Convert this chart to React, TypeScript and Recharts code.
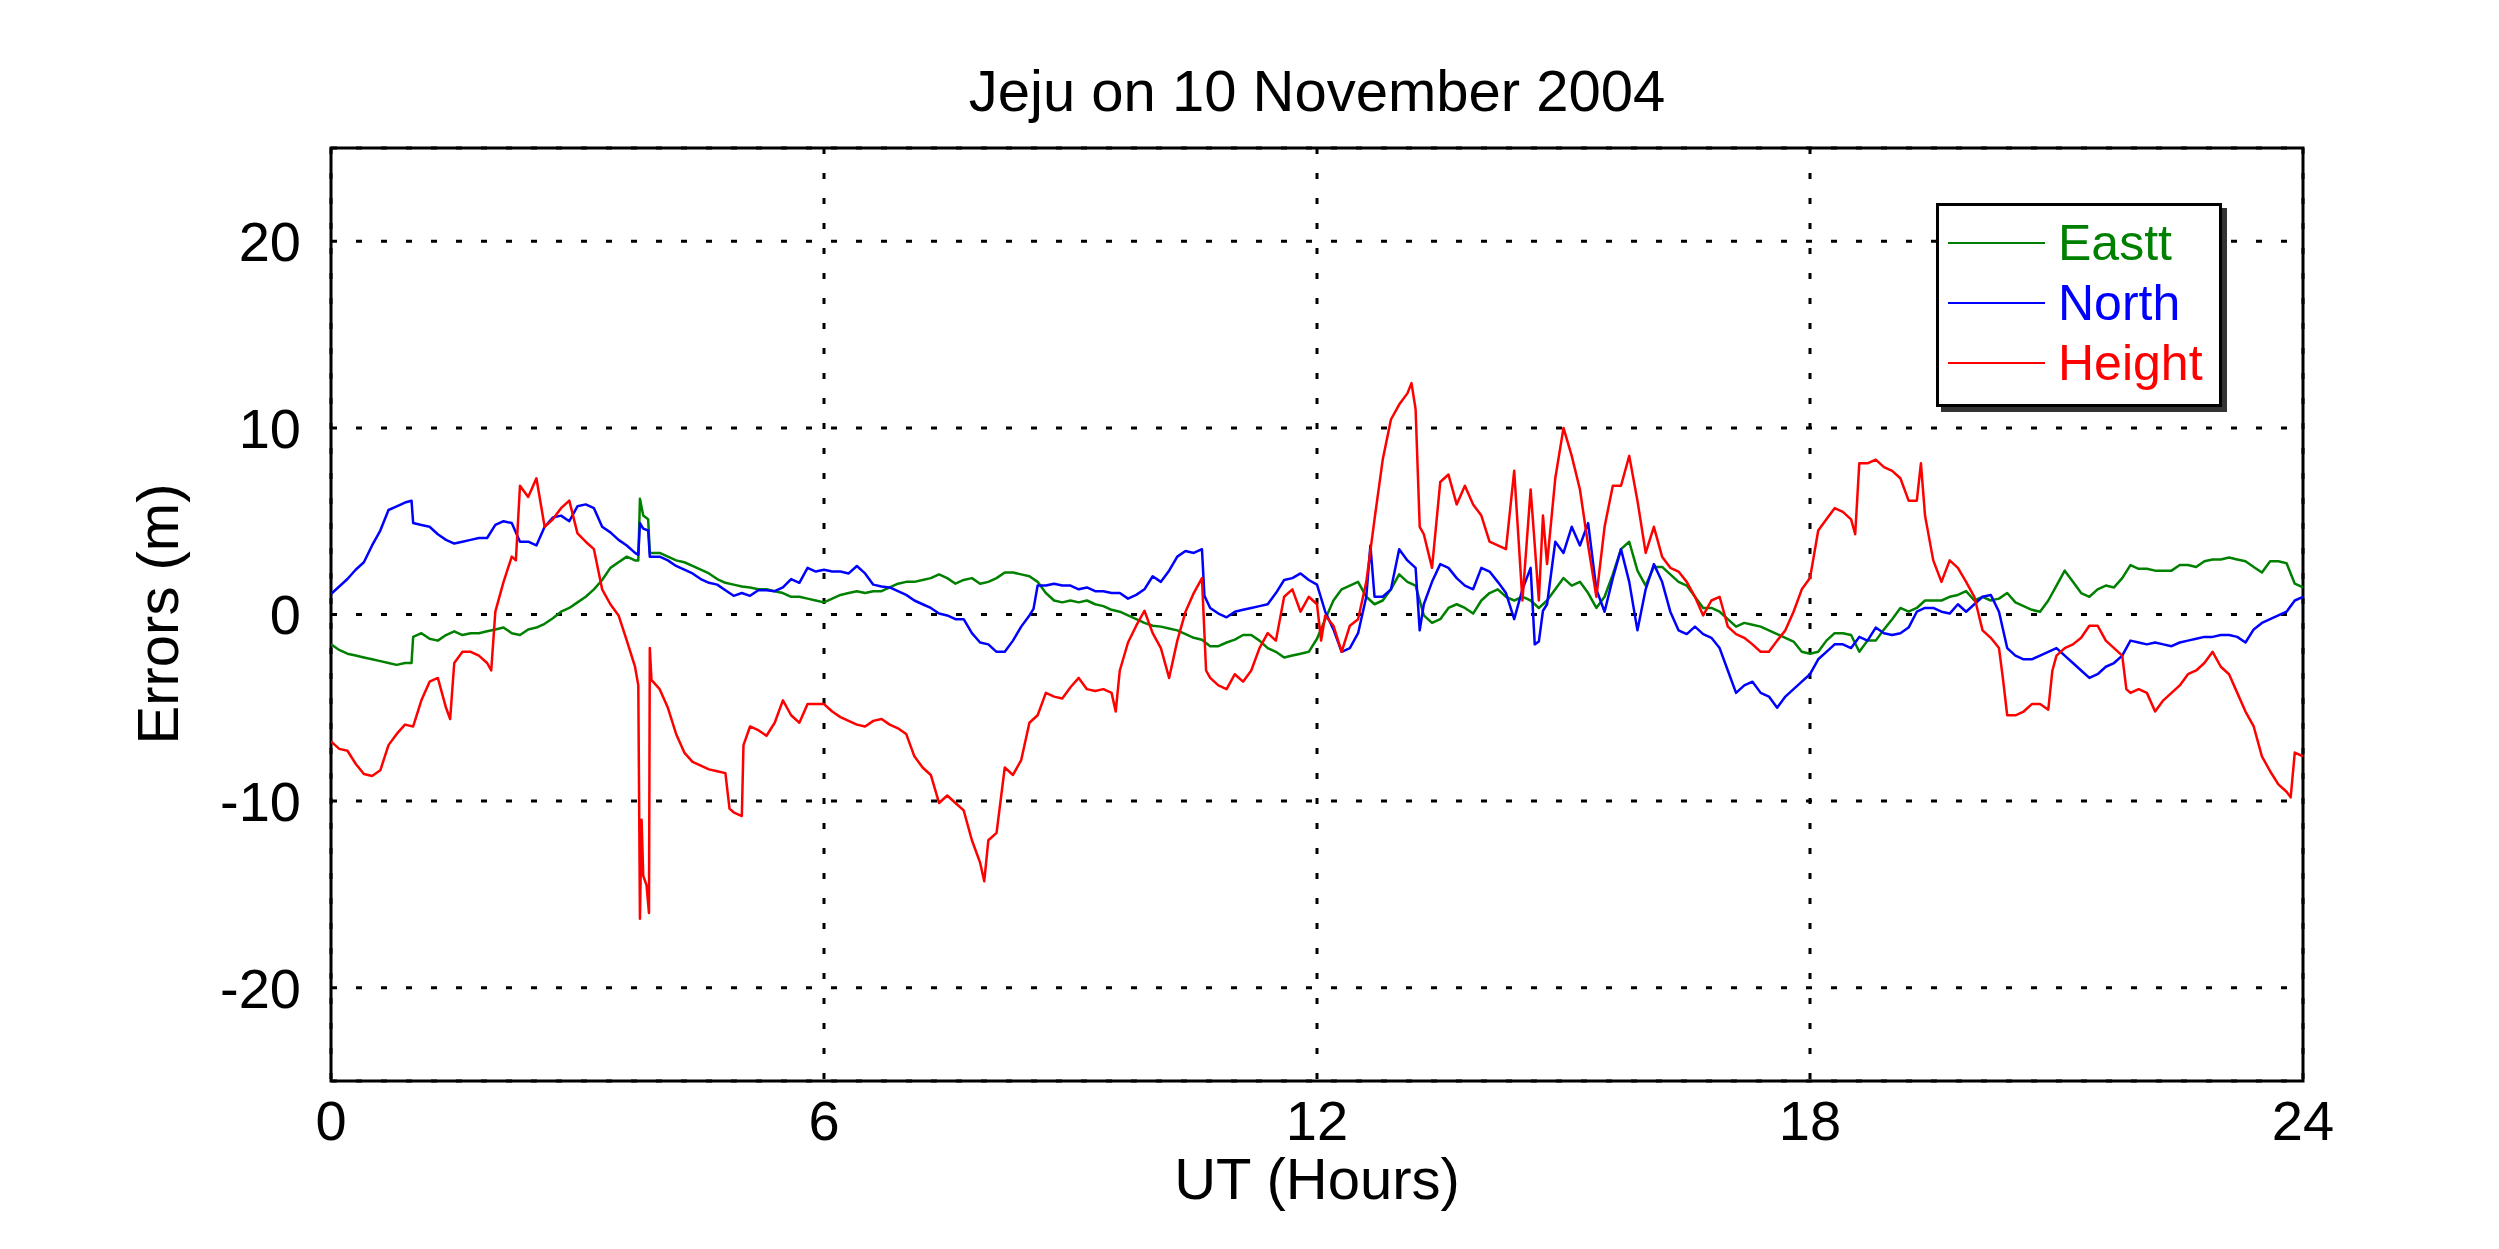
import { LineChart, Line, XAxis, YAxis, CartesianGrid, Legend, ReferenceArea } from 'recharts';

const FONT = '"Liberation Sans", Arial, Helvetica, sans-serif';

const X_TICKS = [0, 6, 12, 18, 24];
const Y_TICKS = [-20, -10, 0, 10, 20];

// [UT hour, error in m]
const EAST: [number, number][] = [
  [0, -1.6], [0.1, -1.9], [0.2, -2.1], [0.3, -2.2], [0.4, -2.3], [0.5, -2.4], [0.6, -2.5], [0.7, -2.6], [0.8, -2.7], [0.9, -2.6],
  [0.98, -2.6], [1.0, -1.2], [1.1, -1.0], [1.2, -1.3], [1.3, -1.4], [1.4, -1.1], [1.5, -0.9], [1.6, -1.1], [1.7, -1.0], [1.8, -1.0],
  [1.9, -0.9], [2.0, -0.8], [2.1, -0.7], [2.2, -1.0], [2.3, -1.1], [2.4, -0.8], [2.5, -0.7], [2.6, -0.5], [2.7, -0.2], [2.8, 0.15],
  [2.9, 0.35], [3.0, 0.65], [3.1, 0.95], [3.2, 1.35], [3.3, 1.85], [3.4, 2.5], [3.5, 2.8], [3.6, 3.1], [3.7, 2.9], [3.74, 2.9],
  [3.76, 6.2], [3.8, 5.3], [3.86, 5.1], [3.88, 3.3], [4.0, 3.3], [4.1, 3.1], [4.2, 2.9], [4.3, 2.8], [4.4, 2.6], [4.5, 2.4],
  [4.6, 2.2], [4.7, 1.9], [4.8, 1.7], [4.9, 1.6], [5.0, 1.5], [5.1, 1.45], [5.2, 1.35], [5.3, 1.35], [5.4, 1.25], [5.5, 1.15],
  [5.6, 0.95], [5.7, 0.95], [5.8, 0.85], [5.9, 0.75],
  [6.0, 0.65], [6.1, 0.85], [6.2, 1.05], [6.3, 1.15], [6.4, 1.25], [6.5, 1.15], [6.6, 1.25], [6.7, 1.25], [6.8, 1.45], [6.9, 1.65],
  [7.0, 1.75], [7.1, 1.75], [7.2, 1.85], [7.3, 1.95], [7.4, 2.15], [7.5, 1.95], [7.6, 1.65], [7.7, 1.85], [7.8, 1.95], [7.9, 1.65],
  [8.0, 1.75], [8.1, 1.95], [8.2, 2.25], [8.3, 2.25], [8.4, 2.15], [8.5, 2.05], [8.6, 1.75], [8.7, 1.15], [8.8, 0.75], [8.9, 0.65],
  [9.0, 0.75], [9.1, 0.65], [9.2, 0.75], [9.3, 0.55], [9.4, 0.45], [9.5, 0.25], [9.6, 0.15], [9.7, -0.05], [9.8, -0.25], [9.9, -0.45],
  [10.0, -0.6], [10.1, -0.65], [10.2, -0.75], [10.3, -0.85], [10.4, -1.05], [10.5, -1.25], [10.6, -1.35], [10.7, -1.7], [10.8, -1.7], [10.9, -1.5],
  [11.0, -1.35], [11.1, -1.1], [11.2, -1.1], [11.3, -1.4], [11.4, -1.8], [11.5, -2.0], [11.6, -2.3], [11.7, -2.2], [11.8, -2.1], [11.9, -2.0],
  [12.0, -1.3], [12.1, -0.25], [12.2, 0.75], [12.3, 1.35], [12.4, 1.55], [12.5, 1.75], [12.6, 0.95], [12.7, 0.55], [12.8, 0.75], [12.9, 1.35],
  [13.0, 2.15], [13.1, 1.75], [13.2, 1.55], [13.3, -0.05], [13.4, -0.45], [13.5, -0.25], [13.6, 0.35], [13.7, 0.55], [13.8, 0.35], [13.9, 0.05],
  [14.0, 0.75], [14.1, 1.15], [14.2, 1.35], [14.3, 0.95], [14.4, 0.75], [14.5, 0.95], [14.6, 0.75], [14.7, 0.35], [14.8, 0.75], [14.9, 1.35],
  [15.0, 1.95], [15.1, 1.55], [15.2, 1.75], [15.3, 1.15], [15.4, 0.35], [15.5, 0.95], [15.6, 2.15], [15.7, 3.5], [15.8, 3.9], [15.9, 2.35],
  [16.0, 1.55], [16.1, 2.55], [16.2, 2.55], [16.3, 2.15], [16.4, 1.75], [16.5, 1.55], [16.6, 0.95], [16.7, 0.35], [16.8, 0.35], [16.9, 0.15],
  [17.0, -0.25], [17.1, -0.65], [17.2, -0.45], [17.3, -0.55], [17.4, -0.65], [17.5, -0.85], [17.6, -1.05], [17.7, -1.25], [17.8, -1.45], [17.9, -2.0],
  [18.0, -2.1], [18.1, -2.0], [18.2, -1.4], [18.3, -1.0], [18.4, -1.0], [18.5, -1.1], [18.6, -2.0], [18.7, -1.4], [18.8, -1.4], [18.9, -0.8],
  [19.0, -0.25], [19.1, 0.35], [19.2, 0.15], [19.3, 0.35], [19.4, 0.75], [19.5, 0.75], [19.6, 0.75], [19.7, 0.95], [19.8, 1.05], [19.9, 1.25],
  [20.0, 0.75], [20.1, 0.95], [20.2, 0.75], [20.3, 0.85], [20.4, 1.15], [20.5, 0.65], [20.6, 0.45], [20.7, 0.25], [20.8, 0.15], [20.9, 0.75],
  [21.0, 1.55], [21.1, 2.35], [21.2, 1.75], [21.3, 1.15], [21.4, 0.95], [21.5, 1.35], [21.6, 1.55], [21.7, 1.45], [21.8, 1.95], [21.9, 2.65],
  [22.0, 2.45], [22.1, 2.45], [22.2, 2.35], [22.3, 2.35], [22.4, 2.35], [22.5, 2.65], [22.6, 2.65], [22.7, 2.55], [22.8, 2.85], [22.9, 2.95],
  [23.0, 2.95], [23.1, 3.05], [23.2, 2.95], [23.3, 2.85], [23.4, 2.55], [23.5, 2.25], [23.6, 2.85], [23.7, 2.85], [23.8, 2.75], [23.9, 1.65],
  [24.0, 1.45],
];

const NORTH: [number, number][] = [
  [0, 1.1], [0.1, 1.5], [0.2, 1.9], [0.3, 2.4], [0.4, 2.8], [0.5, 3.7], [0.6, 4.5], [0.7, 5.6], [0.8, 5.8], [0.9, 6.0],
  [0.98, 6.1], [1.0, 4.9], [1.1, 4.8], [1.2, 4.7], [1.3, 4.3], [1.4, 4.0], [1.5, 3.8], [1.6, 3.9], [1.7, 4.0], [1.8, 4.1],
  [1.9, 4.1], [2.0, 4.8], [2.1, 5.0], [2.2, 4.9], [2.3, 3.9], [2.4, 3.9], [2.5, 3.7], [2.6, 4.7], [2.7, 5.2], [2.8, 5.3],
  [2.9, 5.0], [3.0, 5.8], [3.1, 5.9], [3.2, 5.7], [3.3, 4.7], [3.4, 4.4], [3.5, 4.0], [3.6, 3.7], [3.7, 3.3], [3.74, 3.2],
  [3.76, 4.9], [3.8, 4.6], [3.86, 4.5], [3.88, 3.1], [4.0, 3.1], [4.1, 2.9], [4.2, 2.6], [4.3, 2.4], [4.4, 2.2], [4.5, 1.9],
  [4.6, 1.7], [4.7, 1.6], [4.8, 1.3], [4.9, 1.0], [5.0, 1.15], [5.1, 1.0], [5.2, 1.3], [5.3, 1.3], [5.4, 1.25], [5.5, 1.45],
  [5.6, 1.9], [5.7, 1.7], [5.8, 2.5], [5.9, 2.3],
  [6.0, 2.4], [6.1, 2.3], [6.2, 2.3], [6.3, 2.2], [6.4, 2.6], [6.5, 2.2], [6.6, 1.6], [6.7, 1.5], [6.8, 1.45], [6.9, 1.25],
  [7.0, 1.05], [7.1, 0.75], [7.2, 0.55], [7.3, 0.35], [7.4, 0.05], [7.5, -0.05], [7.6, -0.25], [7.7, -0.25], [7.8, -1.0], [7.9, -1.5],
  [8.0, -1.6], [8.1, -2.0], [8.2, -2.0], [8.3, -1.4], [8.4, -0.65], [8.5, -0.05], [8.55, 0.3], [8.6, 1.55], [8.7, 1.55], [8.8, 1.65],
  [8.9, 1.55], [9.0, 1.55], [9.1, 1.35], [9.2, 1.45], [9.3, 1.25], [9.4, 1.25], [9.5, 1.15], [9.6, 1.15], [9.7, 0.85], [9.8, 1.05],
  [9.9, 1.35], [10.0, 2.05], [10.1, 1.75], [10.2, 2.35], [10.3, 3.1], [10.4, 3.4], [10.5, 3.3], [10.6, 3.5], [10.63, 1.0], [10.7, 0.35],
  [10.8, 0.05], [10.9, -0.15], [11.0, 0.15], [11.1, 0.25], [11.2, 0.35], [11.3, 0.45], [11.4, 0.55], [11.5, 1.15], [11.6, 1.85], [11.7, 1.95],
  [11.8, 2.2], [11.9, 1.85],
  [12.0, 1.6], [12.1, 0.15], [12.2, -0.8], [12.3, -2.0], [12.4, -1.8], [12.5, -1.0], [12.6, 0.95], [12.65, 3.7], [12.7, 0.95], [12.8, 0.95],
  [12.9, 1.35], [13.0, 3.5], [13.1, 2.9], [13.2, 2.5], [13.25, -0.85], [13.3, 0.55], [13.4, 1.75], [13.5, 2.7], [13.6, 2.5], [13.7, 1.95],
  [13.8, 1.55], [13.9, 1.35], [14.0, 2.5], [14.1, 2.3], [14.2, 1.75], [14.3, 1.15], [14.4, -0.25], [14.5, 1.35], [14.6, 2.5], [14.65, -1.6],
  [14.7, -1.45], [14.75, 0.2], [14.8, 0.55], [14.9, 3.9], [15.0, 3.3], [15.1, 4.7], [15.2, 3.7], [15.3, 4.9], [15.4, 1.35], [15.5, 0.15],
  [15.6, 1.95], [15.7, 3.5], [15.8, 1.75], [15.9, -0.85], [16.0, 1.35], [16.1, 2.7], [16.2, 1.75], [16.3, 0.15], [16.4, -0.85], [16.5, -1.05],
  [16.6, -0.65], [16.7, -1.05], [16.8, -1.25], [16.9, -1.8], [17.0, -3.0], [17.1, -4.2], [17.2, -3.8], [17.3, -3.6], [17.4, -4.2], [17.5, -4.4],
  [17.6, -5.0], [17.7, -4.4], [17.8, -4.0], [17.9, -3.6],
  [18.0, -3.2], [18.1, -2.4], [18.2, -2.0], [18.3, -1.6], [18.4, -1.6], [18.5, -1.8], [18.6, -1.2], [18.7, -1.4], [18.8, -0.7], [18.9, -1.0],
  [19.0, -1.1], [19.1, -1.0], [19.2, -0.7], [19.3, 0.15], [19.4, 0.35], [19.5, 0.35], [19.6, 0.15], [19.7, 0.05], [19.8, 0.55], [19.9, 0.15],
  [20.0, 0.55], [20.1, 0.95], [20.2, 1.05], [20.3, 0.15], [20.4, -1.8], [20.5, -2.2], [20.6, -2.4], [20.7, -2.4], [20.8, -2.2], [20.9, -2.0],
  [21.0, -1.8], [21.1, -2.2], [21.2, -2.6], [21.3, -3.0], [21.4, -3.4], [21.5, -3.2], [21.6, -2.8], [21.7, -2.6], [21.8, -2.2], [21.9, -1.4],
  [22.0, -1.5], [22.1, -1.6], [22.2, -1.5], [22.3, -1.6], [22.4, -1.7], [22.5, -1.5], [22.6, -1.4], [22.7, -1.3], [22.8, -1.2], [22.9, -1.2],
  [23.0, -1.1], [23.1, -1.1], [23.2, -1.2], [23.3, -1.5], [23.4, -0.8], [23.5, -0.45], [23.6, -0.25], [23.7, -0.05], [23.8, 0.15], [23.9, 0.75],
  [24.0, 0.95],
];

const HEIGHT: [number, number][] = [
  [0, -6.8], [0.1, -7.2], [0.2, -7.3], [0.3, -8.0], [0.4, -8.55], [0.5, -8.65], [0.6, -8.35], [0.7, -7.0], [0.8, -6.4], [0.9, -5.9],
  [1.0, -6.0], [1.1, -4.6], [1.2, -3.6], [1.3, -3.4], [1.4, -5.0], [1.45, -5.6], [1.5, -2.6], [1.6, -2.0], [1.7, -2.0], [1.8, -2.2],
  [1.9, -2.6], [1.95, -3.0], [2.0, 0.15], [2.1, 1.75], [2.2, 3.1], [2.25, 2.9], [2.3, 6.9], [2.4, 6.3], [2.5, 7.3], [2.6, 4.7],
  [2.7, 5.1], [2.8, 5.7], [2.9, 6.1], [3.0, 4.35], [3.1, 3.9], [3.2, 3.5], [3.3, 1.35], [3.4, 0.55], [3.5, -0.05], [3.6, -1.4],
  [3.7, -2.8], [3.74, -3.8], [3.76, -16.3], [3.78, -11.0], [3.8, -14.0], [3.84, -14.5], [3.87, -16.0], [3.88, -1.8], [3.9, -3.5], [4.0, -4.0],
  [4.1, -5.0], [4.2, -6.4], [4.3, -7.4], [4.4, -7.9], [4.5, -8.1], [4.6, -8.3], [4.7, -8.4], [4.8, -8.5], [4.85, -10.4], [4.9, -10.6],
  [5.0, -10.8], [5.02, -7.0], [5.1, -6.0], [5.2, -6.2], [5.3, -6.5], [5.4, -5.8], [5.5, -4.6], [5.6, -5.4], [5.7, -5.8], [5.8, -4.8],
  [5.9, -4.8],
  [6.0, -4.8], [6.1, -5.2], [6.2, -5.5], [6.3, -5.7], [6.4, -5.9], [6.5, -6.0], [6.6, -5.7], [6.7, -5.6], [6.8, -5.9], [6.9, -6.1],
  [7.0, -6.4], [7.1, -7.6], [7.2, -8.2], [7.3, -8.6], [7.4, -10.1], [7.5, -9.7], [7.6, -10.1], [7.7, -10.5], [7.8, -12.1], [7.9, -13.3],
  [7.95, -14.3], [8.0, -12.1], [8.1, -11.7], [8.2, -8.2], [8.3, -8.6], [8.4, -7.8], [8.5, -5.8], [8.6, -5.4], [8.7, -4.2], [8.8, -4.4],
  [8.9, -4.5], [9.0, -3.9], [9.1, -3.4], [9.2, -4.0], [9.3, -4.1], [9.4, -4.0], [9.5, -4.2], [9.55, -5.2], [9.6, -3.0], [9.7, -1.5],
  [9.8, -0.6], [9.9, 0.2], [10.0, -1.0], [10.1, -1.8], [10.2, -3.4], [10.3, -1.4], [10.4, 0.15], [10.5, 1.15], [10.6, 1.95], [10.65, -3.0],
  [10.7, -3.4], [10.8, -3.8], [10.9, -4.0], [11.0, -3.2], [11.1, -3.6], [11.2, -3.0], [11.3, -1.8], [11.4, -1.0], [11.5, -1.4], [11.6, 0.95],
  [11.7, 1.35], [11.8, 0.15], [11.9, 0.95],
  [12.0, 0.55], [12.05, -1.4], [12.1, -0.05], [12.2, -0.6], [12.3, -2.0], [12.4, -0.6], [12.5, -0.25], [12.6, 1.75], [12.7, 5.1], [12.8, 8.3],
  [12.9, 10.45], [13.0, 11.25], [13.1, 11.85], [13.15, 12.4], [13.2, 11.0], [13.25, 4.7], [13.3, 4.3], [13.4, 2.5], [13.5, 7.1], [13.6, 7.5],
  [13.7, 5.9], [13.8, 6.9], [13.9, 5.9], [14.0, 5.3], [14.1, 3.9], [14.2, 3.7], [14.3, 3.5], [14.4, 7.7], [14.5, 0.75], [14.6, 6.7],
  [14.7, 0.75], [14.75, 5.3], [14.8, 2.7], [14.9, 7.3], [15.0, 10.0], [15.1, 8.5], [15.2, 6.7], [15.3, 3.7], [15.4, 0.95], [15.5, 4.7],
  [15.6, 6.9], [15.7, 6.9], [15.8, 8.5], [15.9, 6.1], [16.0, 3.3], [16.1, 4.7], [16.2, 3.1], [16.3, 2.5], [16.4, 2.3], [16.5, 1.75],
  [16.6, 0.95], [16.7, -0.05], [16.8, 0.75], [16.9, 0.95], [17.0, -0.65], [17.1, -1.05], [17.2, -1.25], [17.3, -1.6], [17.4, -2.0], [17.5, -2.0],
  [17.6, -1.4], [17.7, -0.85], [17.8, 0.15], [17.9, 1.35],
  [18.0, 1.95], [18.1, 4.5], [18.2, 5.1], [18.3, 5.7], [18.4, 5.5], [18.5, 5.1], [18.55, 4.3], [18.6, 8.1], [18.7, 8.1], [18.8, 8.3],
  [18.9, 7.9], [19.0, 7.7], [19.1, 7.3], [19.2, 6.1], [19.3, 6.1], [19.35, 8.1], [19.4, 5.3], [19.5, 2.9], [19.6, 1.75], [19.7, 2.9],
  [19.8, 2.5], [19.9, 1.75], [20.0, 0.95], [20.1, -0.85], [20.2, -1.25], [20.3, -1.8], [20.35, -3.5], [20.4, -5.4], [20.5, -5.4], [20.6, -5.2],
  [20.7, -4.8], [20.8, -4.8], [20.9, -5.1], [20.95, -3.0], [21.0, -2.2], [21.1, -1.8], [21.2, -1.6], [21.3, -1.25], [21.4, -0.6], [21.5, -0.6],
  [21.6, -1.4], [21.7, -1.8], [21.8, -2.2], [21.85, -4.0], [21.9, -4.2], [22.0, -4.0], [22.1, -4.2], [22.2, -5.2], [22.3, -4.6], [22.4, -4.2],
  [22.5, -3.8], [22.6, -3.2], [22.7, -3.0], [22.8, -2.6], [22.9, -2.0], [23.0, -2.8], [23.1, -3.2], [23.2, -4.2], [23.3, -5.2], [23.4, -6.0],
  [23.5, -7.6], [23.6, -8.4], [23.7, -9.1], [23.8, -9.5], [23.85, -9.8], [23.9, -7.4], [24.0, -7.6],
];

const SERIES = [
  { name: 'Eastt', color: '#008000', points: EAST },
  { name: 'North', color: '#0000ff', points: NORTH },
  { name: 'Height', color: '#ff0000', points: HEIGHT },
];

const toRows = (pts: [number, number][]) => pts.map(([h, v]) => ({ h, v }));

function LegendBox() {
  return (
    <div
      style={{
        width: 286,
        height: 204,
        boxSizing: 'border-box',
        border: '3px solid #000',
        background: '#fff',
        boxShadow: '5px 5px 0 #333',
        padding: '7px 0 0 9px',
      }}
    >
      {SERIES.map((s) => (
        <div key={s.name} style={{ display: 'flex', alignItems: 'center', height: 60 }}>
          <div style={{ width: 97, height: 2, background: s.color }} />
          <span style={{ marginLeft: 13, color: s.color, fontSize: 50, fontFamily: FONT, lineHeight: '60px' }}>
            {s.name}
          </span>
        </div>
      ))}
    </div>
  );
}

export default function App() {
  const tickStyle = { fontSize: 56, fill: '#000', fontFamily: FONT };

  return (
    <LineChart width={2483} height={1233} margin={{ top: 140, right: 188, bottom: 0, left: 0 }}>
      <CartesianGrid stroke="#000" strokeWidth={3} strokeDasharray="6 19" />
      <XAxis
        dataKey="h"
        type="number"
        domain={[0, 24]}
        ticks={X_TICKS}
        interval={0}
        allowDataOverflow
        axisLine={false}
        tickLine={false}
        tickSize={6}
        tickMargin={13}
        height={160}
        tick={tickStyle}
      />
      <YAxis
        type="number"
        domain={[-25, 25]}
        ticks={Y_TICKS}
        interval={0}
        allowDataOverflow
        axisLine={false}
        tickLine={false}
        tickSize={6}
        tickMargin={24}
        width={323}
        tick={tickStyle}
      />
      {SERIES.map((s) => (
        <Line
          key={s.name}
          data={toRows(s.points)}
          dataKey="v"
          name={s.name}
          type="linear"
          stroke={s.color}
          strokeWidth={2.5}
          strokeLinejoin="round"
          dot={false}
          activeDot={false}
          isAnimationActive={false}
        />
      ))}
      <ReferenceArea x1={0} x2={24} y1={-25} y2={25} fill="none" stroke="#000" strokeWidth={3} ifOverflow="visible" />
      <Legend
        layout="vertical"
        align="center"
        verticalAlign="middle"
        content={() => <LegendBox />}
        wrapperStyle={{ left: 1928, top: 195, width: 286, height: 204 }}
      />
      <text x={1309} y={103} textAnchor="middle" fontSize={58} fontFamily={FONT} fill="#000">
        Jeju on 10 November 2004
      </text>
      <text x={1309} y={1191} textAnchor="middle" fontSize={58} fontFamily={FONT} fill="#000">
        UT (Hours)
      </text>
      <text transform="translate(170, 606) rotate(-90)" textAnchor="middle" fontSize={58} fontFamily={FONT} fill="#000">
        Errors (m)
      </text>
    </LineChart>
  );
}
